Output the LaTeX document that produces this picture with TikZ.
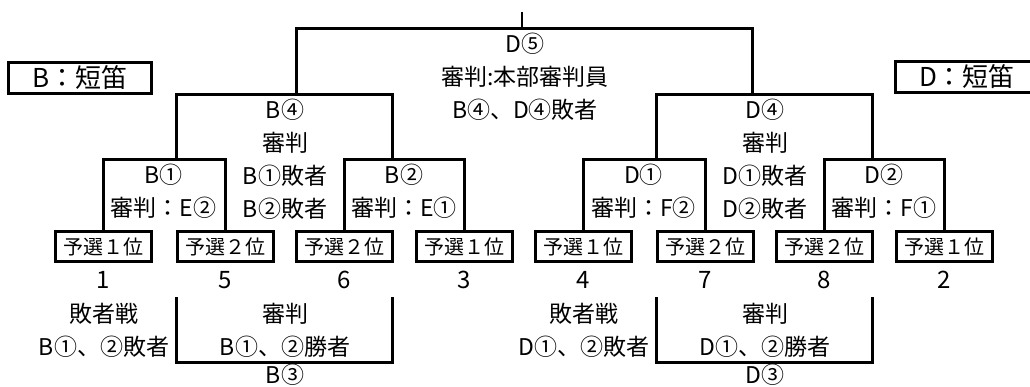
\documentclass[tikz,border=0pt]{standalone}
\usepackage{fontspec}
\newfontfamily\jpfont{Noto Sans CJK JP}
\begin{document}
\begin{tikzpicture}[x=1pt, y=-1pt, line width=3pt, font=\jpfont\fontsize{23}{33}\selectfont,
	label distance=6pt, every label/.style={inner sep=0pt, font=\jpfont\fontsize{24}{28}\selectfont},
	seed/.style = {draw, minimum width=96pt, minimum height=30pt, inner sep=0pt, font=\jpfont\fontsize{20}{24}\selectfont},
	part/.style = {draw, minimum width=143pt, minimum height=31pt, inner sep=0pt, font=\jpfont\fontsize{26}{30}\selectfont},
	txt/.style = {align=center, inner sep=0pt}]
		\useasboundingbox (0,0) rectangle (1030,387);
		
		\node[part] (pb) at (80,78) {B：短笛};
		\node[part] (pd) at (967,77) {D：短笛};
		
		\node[seed] (s1) at (103.5,247)[label=below:1] {予選１位};
		\node[seed] (s5) at (225,247)[label=below:5] {予選２位};
		\node[seed] (s6) at (344.5,247)[label=below:6] {予選２位};
		\node[seed] (s3) at (464,247)[label=below:3] {予選１位};
		\node[seed] (s4) at (583.5,247)[label=below:4] {予選１位};
		\node[seed] (s7) at (705,247)[label=below:7] {予選２位};
		\node[seed] (s8) at (824.5,247)[label=below:8] {予選２位};
		\node[seed] (s2) at (944,247)[label=below:2] {予選１位};
		
		\node[txt] (t5) at (525,77) {D⑤\\審判:本部審判員\\B④、D④敗者};
		\node[txt] (tb4) at (285,159) {B④\\審判\\B①敗者\\B②敗者};
		\node[txt] (td4) at (765,159) {D④\\審判\\D①敗者\\D②敗者};
		\node[txt] (tb1) at (163.5,191.5) {B①\\審判：E②};
		\node[txt] (tb2) at (404,191.5) {B②\\審判：E①};
		\node[txt] (td1) at (643.5,191.5) {D①\\審判：F②};
		\node[txt] (td2) at (884,191.5) {D②\\審判：F①};
		\node[txt] (lb) at (104,330) {敗者戦\\B①、②敗者};
		\node[txt] (wb) at (285,330) {審判\\B①、②勝者};
		\node[txt] (ld) at (584,330) {敗者戦\\D①、②敗者};
		\node[txt] (wd) at (765,330) {審判\\D①、②勝者};
		\node[txt] (tb3) at (285,375) {B③};
		\node[txt] (td3) at (765,375) {D③};
		
		\coordinate (top) at (522,12);
		\coordinate (fin) at (522,29);
		\coordinate (B4) at (296,95);
		\coordinate (D4) at (752,95);
		\coordinate (B4l) at (176,160);
		\coordinate (B4r) at (392,160);
		\coordinate (D4l) at (656,160);
		\coordinate (D4r) at (872,160);
		\coordinate (B1) at (163.5,160);
		\coordinate (B2) at (404,160);
		\coordinate (D1) at (643.5,160);
		\coordinate (D2) at (884,160);
		\coordinate (B3l) at (176,297);
		\coordinate (B3r) at (392,297);
		\coordinate (B3) at (285,362);
		\coordinate (D3l) at (656,297);
		\coordinate (D3r) at (872,297);
		\coordinate (D3) at (765,362);
		
		\draw[line width=1.3pt] (top) -- (fin);
		\draw (B4) |- (fin) -| (D4);
		\draw (B4l) |- (B4) -| (B4r);
		\draw (D4l) |- (D4) -| (D4r);
		\draw (s1.north) |- (B1) -| (s5.north);
		\draw (s6.north) |- (B2) -| (s3.north);
		\draw (s4.north) |- (D1) -| (s7.north);
		\draw (s8.north) |- (D2) -| (s2.north);
		\draw (B3l) |- (B3) -| (B3r);
		\draw (D3l) |- (D3) -| (D3r);
		
	\end{tikzpicture}
\end{document}
